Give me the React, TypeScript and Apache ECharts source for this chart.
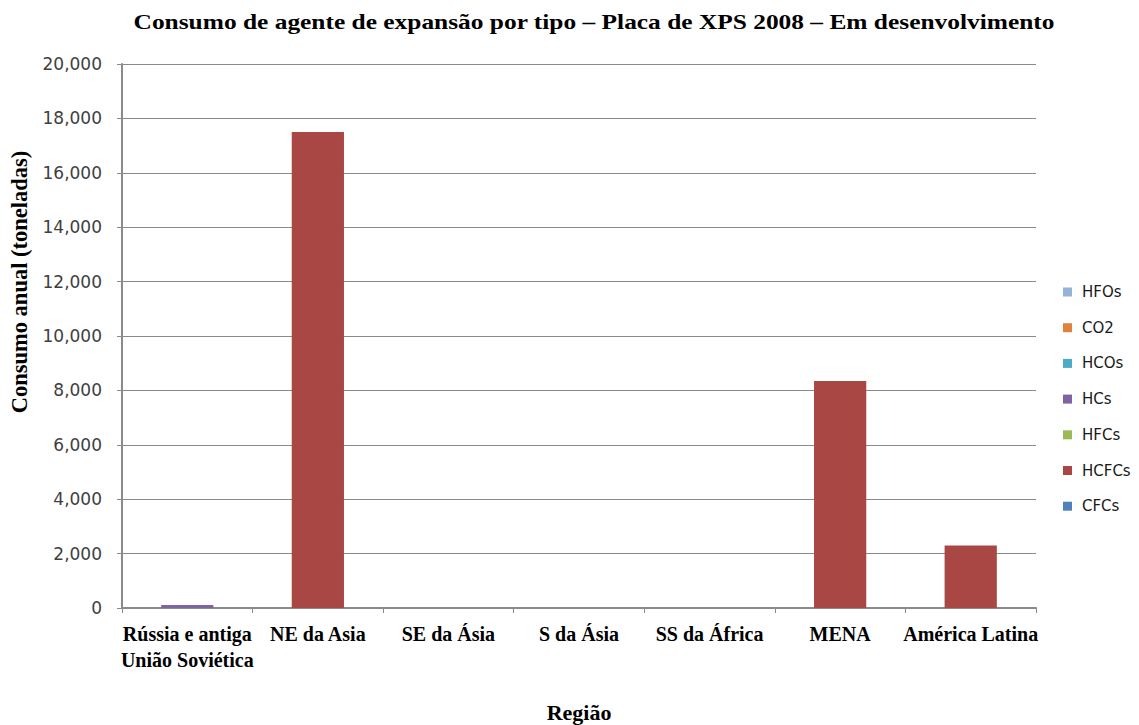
import React, { useEffect, useRef } from "react";
import * as echarts from "echarts";

const categories = [
  "Rússia e antiga\nUnião Soviética",
  "NE da Asia",
  "SE da Ásia",
  "S da Ásia",
  "SS da África",
  "MENA",
  "América Latina",
];

// stacking order bottom → top
const seriesNames = ["CFCs", "HCFCs", "HFCs", "HCs", "HCOs", "CO2", "HFOs"];
const seriesColors = ["#4F81BD", "#A94744", "#9BBB59", "#8064A2", "#4BACC6", "#E0823D", "#95B3D7"];
const cfcs = [0, 0, 0, 0, 0, 0, 0];
const hcfcs = [0, 17500, 0, 0, 0, 8350, 2300];
const hfcs = [0, 0, 0, 0, 0, 0, 0];
const hcs = [110, 0, 0, 0, 0, 0, 0];
const hcos = [0, 0, 0, 0, 0, 0, 0];
const co2 = [0, 0, 0, 0, 0, 0, 0];
const hfos = [0, 0, 0, 0, 0, 0, 0];
const seriesValues = [cfcs, hcfcs, hfcs, hcs, hcos, co2, hfos];
const legendOrder = ["HFOs", "CO2", "HCOs", "HCs", "HFCs", "HCFCs", "CFCs"];

const yMin = 0;
const yMax = 20000;
const yStep = 2000;

const titleText = "Consumo de agente de expansão por tipo – Placa de XPS 2008 – Em desenvolvimento";
const yName = "Consumo anual (toneladas)";
const xName = "Região";

export default function App() {
  const ref = useRef<HTMLDivElement>(null);
  useEffect(() => {
    if (!ref.current) return;
    const chart = echarts.init(ref.current, undefined, { renderer: "svg" });
    const serif = "Liberation Serif";
    const sans = "DejaVu Sans";
    chart.setOption({
      animation: false,
      backgroundColor: "#ffffff",
      graphic: [
        {
          type: "text",
          x: 586,
          y: 14,
          scaleX: 1.21,
          style: {
            text: titleText,
            fontFamily: serif,
            fontWeight: "bold",
            fontSize: 21,
            fill: "#000",
            textAlign: "center",
            textVerticalAlign: "middle",
          },
        },
        {
          type: "text",
          x: 11,
          y: 274,
          rotation: Math.PI / 2,
          style: {
            text: yName,
            fontFamily: serif,
            fontWeight: "bold",
            fontSize: 22.5,
            fill: "#000",
            textAlign: "center",
            textVerticalAlign: "middle",
          },
        },
      ],
      legend: {
        orient: "vertical",
        left: 1055,
        top: 275,
        padding: 0,
        itemWidth: 9,
        itemHeight: 9,
        itemGap: 17.7,
        icon: "rect",
        data: legendOrder,
        textStyle: {
          fontFamily: sans,
          fontSize: 15,
          lineHeight: 18,
          color: "#1a1a1a",
          padding: [0, 0, 0, 5],
        },
      },
      grid: { left: 114, right: 103, top: 56, bottom: 117, containLabel: false, outerBoundsMode: "none" },
      xAxis: {
        type: "category",
        data: categories,
        name: xName,
        nameLocation: "middle",
        nameGap: 93,
        nameTextStyle: { fontFamily: serif, fontWeight: "bold", fontSize: 22, color: "#000" },
        axisLine: { lineStyle: { color: "#8a8a8a", width: 2 } },
        axisTick: { show: true, length: 5, lineStyle: { color: "#8a8a8a" } },
        axisLabel: {
          interval: 0,
          fontFamily: serif,
          fontWeight: "bold",
          fontSize: 20,
          color: "#000",
          margin: 13,
          lineHeight: 26,
        },
      },
      yAxis: {
        type: "value",
        min: yMin,
        max: yMax,
        interval: yStep,
        axisLine: { show: true, lineStyle: { color: "#8a8a8a", width: 2 } },
        axisTick: { show: true, length: 5, lineStyle: { color: "#8a8a8a" } },
        splitLine: { lineStyle: { color: "#8a8a8a", width: 1.2 } },
        axisLabel: {
          fontFamily: sans,
          fontSize: 17,
          color: "#404040",
          margin: 20,
          formatter: (v: number) => v.toLocaleString("en-US"),
        },
      },
      series: seriesNames.map((name, i) => ({
        name,
        type: "bar",
        stack: "total",
        data: seriesValues[i],
        barWidth: "40%",
        itemStyle: { color: seriesColors[i] },
      })),
    });
    return () => chart.dispose();
  }, []);
  return <div ref={ref} style={{ width: 1131, height: 717 }} />;
}
